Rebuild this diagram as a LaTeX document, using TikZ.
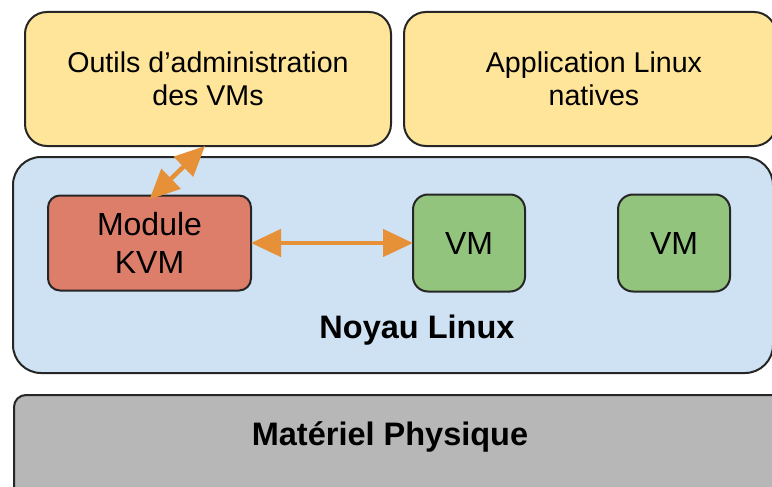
\documentclass[tikz,border=0pt]{standalone}
\usepackage{fontspec}
\setmainfont{Liberation Sans}
\usetikzlibrary{arrows.meta}
\definecolor{cyellow}{HTML}{FFE599}
\definecolor{cblue}{HTML}{CFE2F3}
\definecolor{csalmon}{HTML}{DD7E6B}
\definecolor{cgreen}{HTML}{93C47D}
\definecolor{cgray}{HTML}{B7B7B7}
\definecolor{corange}{HTML}{E69138}
\begin{document}
\begin{tikzpicture}[x=1pt,y=-1pt,
  box/.style={draw=black!85, line width=2pt, inner sep=0pt, outer sep=0pt, align=center},
  txt/.style={font=\fontsize{28.6}{33}\selectfont},
  big/.style={font=\fontsize{32}{38}\selectfont},
  bold/.style={font=\fontsize{32.5}{38}\selectfont\bfseries},
  conn/.style={draw=corange, line width=4.5pt, {Triangle[length=30pt,width=27pt]}-{Triangle[length=30pt,width=27pt]}}]
\useasboundingbox (0,0) rectangle (772,487);
\clip (0,0) rectangle (772,487);
\fill[white] (0,0) rectangle (772,487);
% top boxes
\node[box, fill=cyellow, rounded corners=22pt, minimum width=366pt, minimum height=134pt, txt] (outils) at (208,79) {Outils d’administration\\des VMs};
\node[box, fill=cyellow, rounded corners=22pt, minimum width=372pt, minimum height=134pt] (app) at (590,79) {};
\node[txt, align=center] (apptxt) at (594,79) {Application Linux\\natives};
% kernel
\node[box, fill=cblue, rounded corners=28pt, minimum width=760pt, minimum height=216pt] (noyau) at (393,265) {};
\node[bold] (noyaulbl) at (417,330) {Noyau Linux};
% hardware
\node[box, fill=cgray, rounded corners=12pt, minimum width=772pt, minimum height=110pt] (hw) at (400,450) {};
\node[bold] (hwlbl) at (390,437) {Matériel Physique};
% inner boxes
\node[box, fill=csalmon, rounded corners=12pt, minimum width=203pt, minimum height=95pt, big] (kvm) at (149.5,243) {Module\\KVM};
\node[box, fill=cgreen, rounded corners=15pt, minimum width=112pt, minimum height=97pt, big] (vm1) at (469,243) {VM};
\node[box, fill=cgreen, rounded corners=15pt, minimum width=112pt, minimum height=97pt, big] (vm2) at (674,243) {VM};
% connectors
\draw[conn] (kvm.east) -- (vm1.west);
\coordinate (otip) at ([xshift=-3pt]outils.south);
\draw[conn] ([yshift=-4pt]kvm.north) -- (otip);
\end{tikzpicture}
\end{document}
